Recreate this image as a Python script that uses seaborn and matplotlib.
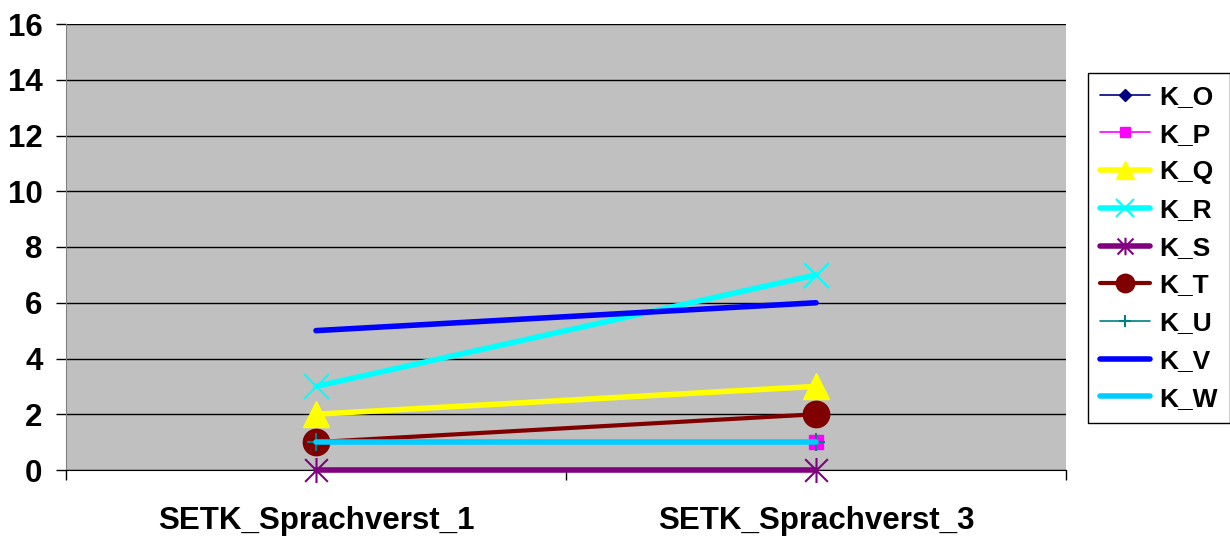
import matplotlib
matplotlib.use("Agg")
import matplotlib.pyplot as plt
from matplotlib.path import Path
import seaborn as sns

categories = ["SETK_Sprachverst_1", "SETK_Sprachverst_3"]

nan = float("nan")
k_o = [nan, nan]
k_p = [1, 1]
k_q = [2, 3]
k_r = [3, 7]
k_s = [0, 0]
k_t = [1, 2]
k_u = [1, 1]
k_v = [5, 6]
k_w = [1, 1]

# Excel-style star: an x with a vertical stroke
star = Path([(-1, -1), (1, 1), (-1, 1), (1, -1), (0, -1.1), (0, 1.1)],
            [Path.MOVETO, Path.LINETO, Path.MOVETO, Path.LINETO, Path.MOVETO, Path.LINETO])

series = [
    ("K_O", k_o, dict(color="#000080", lw=1.2, marker="D", ms=9)),
    ("K_P", k_p, dict(color="#FF00FF", lw=1.2, marker="s", ms=10)),
    ("K_Q", k_q, dict(color="#FFFF00", lw=4, marker="^", ms=19)),
    ("K_R", k_r, dict(color="#00FFFF", lw=4, marker="x", ms=18, mew=1.5)),
    ("K_S", k_s, dict(color="#800080", lw=4, marker=star, ms=18, mew=1.5)),
    ("K_T", k_t, dict(color="#800000", lw=3, marker="o", ms=19)),
    ("K_U", k_u, dict(color="#008080", lw=1.2, marker="+", ms=13, mew=1.5)),
    ("K_V", k_v, dict(color="#0000FF", lw=4, marker=None)),
    ("K_W", k_w, dict(color="#00CCFF", lw=4, marker=None)),
]

sns.set_style("white")
plt.rcParams["font.family"] = ["Liberation Sans", "DejaVu Sans"]
plt.rcParams["font.weight"] = "bold"
plt.rcParams["text.color"] = "black"
plt.rcParams["xtick.color"] = "black"
plt.rcParams["ytick.color"] = "black"

fig = plt.figure(figsize=(12.3, 5.38), dpi=100)
ax = fig.add_axes([66 / 1230, 1 - 470 / 538, 1000 / 1230, 446 / 538])
ax.set_facecolor("#C0C0C0")

for name, vals, st in series:
    sns.lineplot(x=categories, y=vals, ax=ax, label=name, color=st["color"],
                 linewidth=st["lw"], marker=st["marker"],
                 markersize=st.get("ms", 0), markeredgewidth=st.get("mew", 1),
                 markeredgecolor=st["color"], solid_capstyle="round",
                 clip_on=False, zorder=3)

ax.set_xlim(-0.5, 1.5)
ax.set_ylim(0, 16)
ax.set_yticks(range(0, 17, 2))
ax.yaxis.grid(True, color="black", linewidth=1)
ax.set_axisbelow(True)
ax.set_xticks([-0.5, 0.5, 1.5])
ax.set_xticklabels([])
ax.set_xticks([0, 1], minor=True)
ax.set_xticklabels(categories, minor=True, fontsize=22.5, fontweight="bold")
ax.tick_params(axis="x", which="minor", length=0, pad=26)
ax.tick_params(axis="x", which="major", length=7, width=1, direction="out", color="black")
ax.tick_params(axis="y", length=7, width=1, direction="out", color="black", labelsize=22.5, pad=10)
ax.tick_params(bottom=True, left=True)
for lab in ax.get_yticklabels():
    lab.set_fontweight("bold")
for side in ["top", "right"]:
    ax.spines[side].set_visible(False)
ax.spines["left"].set_color("#808080")
ax.spines["bottom"].set_color("black")
ax.set_xlabel("")
ax.set_ylabel("")

leg = ax.legend(loc="upper left", bbox_to_anchor=(1088 / 1230, 1 - 73 / 538),
                bbox_transform=fig.transFigure, frameon=True, fancybox=False,
                edgecolor="black", framealpha=1, handlelength=1.9,
                labelspacing=0.52, borderpad=0.45, handletextpad=0.35,
                borderaxespad=0, prop={"weight": "bold", "size": 19})
leg.get_frame().set_linewidth(1)
for h in leg.legend_handles:
    ms = h.get_markersize()
    h.set_markersize(ms * 0.7)

fig.savefig("out.png", dpi=100)
